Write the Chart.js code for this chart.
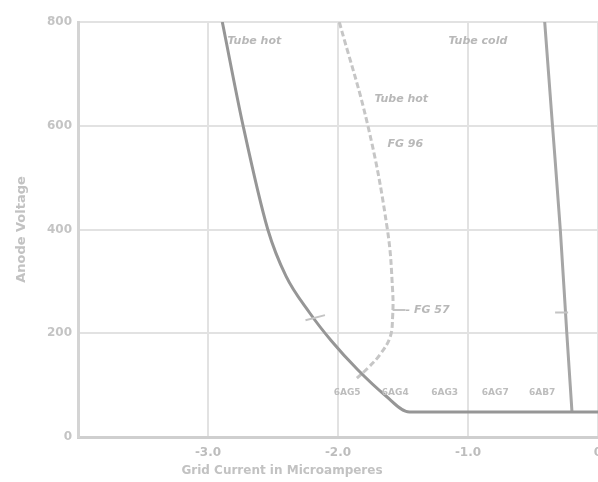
<!DOCTYPE html>
<html lang="en">
<head>
    <meta charset="UTF-8">
    <title>Anode Voltage vs Grid Current</title>
    <script src="https://cdn.jsdelivr.net/npm/chart.js"></script>
    <style>
        body { margin: 0; background: #ffffff; }
        canvas { display: block; }
    </style>
</head>
<body>
    <canvas id="gridChart" width="598" height="482"></canvas>

    <script>
        // Curves (grid current in microamperes, anode voltage)
        const hotCurrent  = [-2.89, -2.73, -2.54, -2.40, -2.22, -2.05, -1.85, -1.64, -1.45, -1.0, -0.5, 0];
        const hotVoltage  = [800, 600, 400, 310, 240, 185, 130, 81, 48, 48, 48, 48];

        const fgCurrent   = [-1.99, -1.77, -1.62, -1.58, -1.58, -1.60, -1.68, -1.77, -1.87];
        const fgVoltage   = [800, 600, 400, 283, 231, 192, 158, 133, 110];

        const coldCurrent = [-0.41, -0.35, -0.29, -0.24, -0.20];
        const coldVoltage = [800, 600, 400, 200, 48];

        const tubeTypes   = ['6AG5', '6AG4', '6AG3', '6AG7', '6AB7'];
        const tubeTypeX   = [-1.93, -1.56, -1.18, -0.79, -0.43];

        const xTicks = [-3, -2, -1, 0];
        const yTicks = [0, 200, 400, 600, 800];

        const toPoints = (xs, ys) => xs.map((x, i) => ({ x: x, y: ys[i] }));

        // handwritten notes and axis title drawn on the canvas
        const notesPlugin = {
            id: 'notes',
            afterDatasetsDraw(chart) {
                const c = chart.ctx;
                const xs = chart.scales.x, ys = chart.scales.y;
                c.save();
                c.fillStyle = '#b8b8b8';
                c.font = 'italic bold 11px "DejaVu Sans"';
                c.textAlign = 'left';
                c.textBaseline = 'middle';
                c.fillText('Tube hot', xs.getPixelForValue(-2.85), ys.getPixelForValue(763));
                c.fillText('Tube hot', xs.getPixelForValue(-1.72), ys.getPixelForValue(652));
                c.fillText('FG 96', xs.getPixelForValue(-1.62), ys.getPixelForValue(565));
                c.fillText('Tube cold', xs.getPixelForValue(-1.15), ys.getPixelForValue(763));
                c.fillText('- FG 57', xs.getPixelForValue(-1.48), ys.getPixelForValue(245));

                // small dashes pointing at the curves
                c.strokeStyle = '#c4c4c4';
                c.lineWidth = 2;
                c.beginPath();
                c.moveTo(xs.getPixelForValue(-1.58), ys.getPixelForValue(245));
                c.lineTo(xs.getPixelForValue(-1.48), ys.getPixelForValue(245));
                c.moveTo(xs.getPixelForValue(-0.33), ys.getPixelForValue(240));
                c.lineTo(xs.getPixelForValue(-0.23), ys.getPixelForValue(240));
                c.moveTo(xs.getPixelForValue(-2.25), ys.getPixelForValue(225));
                c.lineTo(xs.getPixelForValue(-2.10), ys.getPixelForValue(235));
                c.stroke();

                c.font = 'bold 9px "DejaVu Sans"';
                c.fillStyle = '#bdbdbd';
                c.textAlign = 'center';
                tubeTypes.forEach((t, i) => {
                    c.fillText(t, xs.getPixelForValue(tubeTypeX[i]), ys.getPixelForValue(85));
                });

                c.font = 'bold 12px "DejaVu Sans"';
                c.fillStyle = '#c2c2c2';
                c.fillText('Grid Current in Microamperes', 282, 471);
                c.restore();
            }
        };

        const ctx = document.getElementById('gridChart').getContext('2d');
        new Chart(ctx, {
            type: 'scatter',
            data: {
                datasets: [
                    {
                        label: 'Tube hot',
                        data: toPoints(hotCurrent, hotVoltage),
                        showLine: true,
                        borderColor: '#969696',
                        borderWidth: 3,
                        pointRadius: 0,
                        cubicInterpolationMode: 'monotone'
                    },
                    {
                        label: 'Tube hot FG 96 / FG 57',
                        data: toPoints(fgCurrent, fgVoltage),
                        showLine: true,
                        borderColor: '#c6c6c6',
                        borderWidth: 3,
                        borderDash: [6, 3],
                        pointRadius: 0,
                        tension: 0.4
                    },
                    {
                        label: 'Tube cold',
                        data: toPoints(coldCurrent, coldVoltage),
                        showLine: true,
                        borderColor: '#a6a6a6',
                        borderWidth: 3,
                        pointRadius: 0,
                        cubicInterpolationMode: 'monotone'
                    }
                ]
            },
            options: {
                responsive: false,
                animation: false,
                layout: { padding: { top: 22, right: 0, left: 0, bottom: 0 } },
                plugins: {
                    legend: { display: false },
                    tooltip: { enabled: false }
                },
                scales: {
                    x: {
                        type: 'linear',
                        min: -4,
                        max: 0,
                        afterFit: s => { s.height = 45; s.paddingRight = 0; s.paddingLeft = 0; },
                        afterBuildTicks: s => { s.ticks = xTicks.map(v => ({ value: v })); },
                        ticks: {
                            color: '#bdbdbd',
                            font: { family: 'DejaVu Sans', size: 12, weight: 'bold' },
                            padding: 9,
                            callback: v => v === 0 ? '0' : v.toFixed(1)
                        },
                        grid: { color: '#e2e2e2', lineWidth: 2, drawTicks: false },
                        border: { color: '#cfcfcf', width: 3 }
                    },
                    y: {
                        min: 0,
                        max: 800,
                        afterFit: s => { s.width = 78; },
                        afterBuildTicks: s => { s.ticks = yTicks.map(v => ({ value: v })); },
                        ticks: {
                            color: '#c4c4c4',
                            font: { family: 'DejaVu Sans', size: 12, weight: 'bold' },
                            padding: 6
                        },
                        grid: { color: '#e2e2e2', lineWidth: 2, drawTicks: false },
                        border: { color: '#d4d4d4', width: 3 },
                        title: {
                            display: true,
                            text: 'Anode Voltage',
                            color: '#c2c2c2',
                            font: { family: 'DejaVu Sans', size: 13, weight: 'bold' },
                            padding: { top: 14, bottom: 4 }
                        }
                    }
                }
            },
            plugins: [notesPlugin]
        });
    </script>
</body>
</html>
